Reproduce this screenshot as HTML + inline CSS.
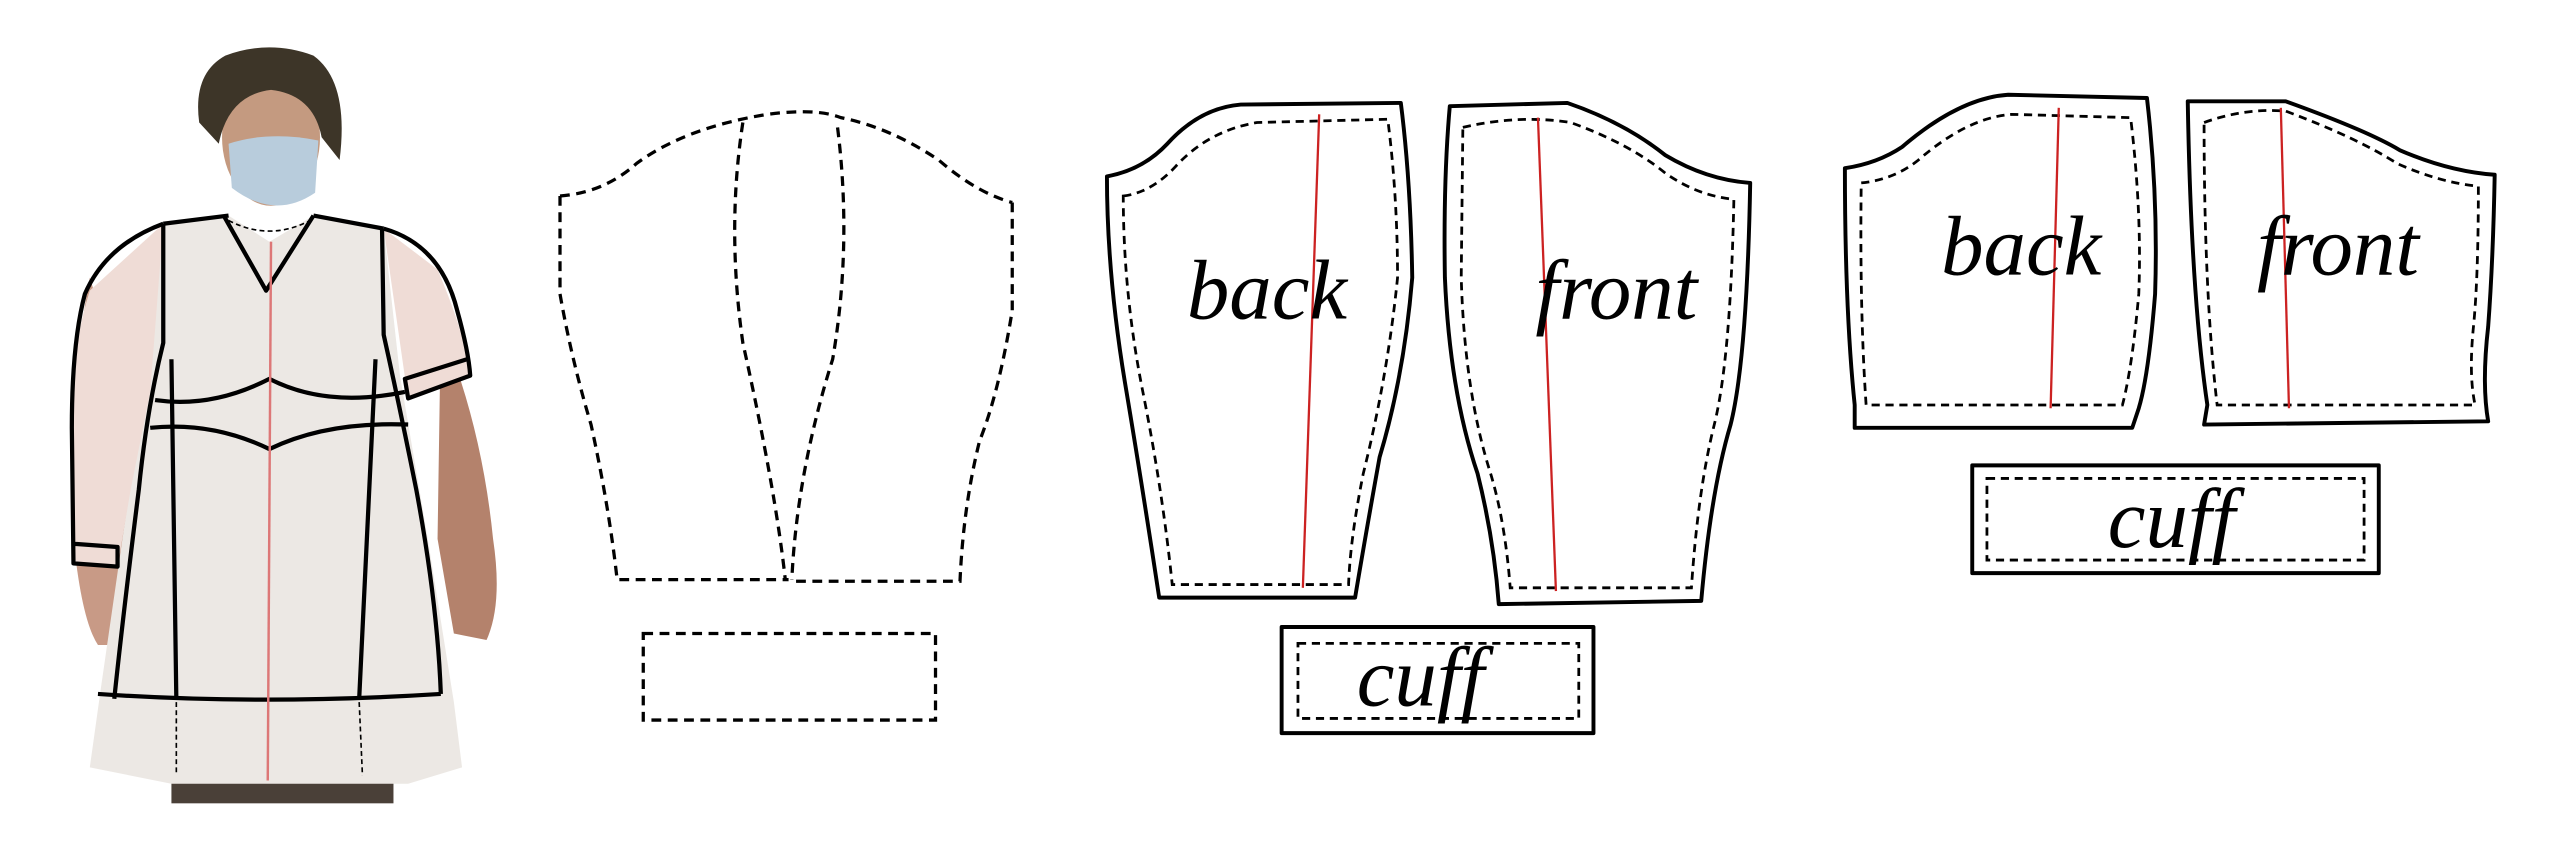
<!DOCTYPE html>
<html><head><meta charset="utf-8"><style>
html,body{margin:0;padding:0;background:#fff;width:2560px;height:854px;overflow:hidden}
svg{display:block}
text{font-family:"Liberation Serif",serif;font-style:italic}
</style></head><body>
<svg width="2560" height="854" viewBox="0 0 1568 523" xmlns="http://www.w3.org/2000/svg">
<rect width="1568" height="523" fill="#fff"/>
<g>
<rect x="105" y="470" width="136" height="22" fill="#4a4038"/>
<path d="M55 170 Q40 250 45 330 Q50 380 60 395 L75 395 L95 300 Z" fill="#c89a86"/>
<path d="M270 200 Q295 260 302 330 Q308 370 298 392 L278 388 L268 330 Z" fill="#b4826c"/>
<ellipse cx="166" cy="84" rx="30" ry="42" fill="#c49a80"/>
<path d="M122 75 Q118 45 138 34 Q165 24 192 34 Q214 50 208 98 L197 84 Q192 58 166 55 Q140 58 134 88 Z" fill="#3d3528"/>
<path d="M140 88 Q165 80 195 86 L193 118 Q168 135 142 115 Z" fill="#b8ccdc"/>
<path d="M100 137 L140 132 L165 148 L192 132 L235 140 L245 230 L262 330 L278 430 L283 470 L250 480 L105 480 L55 470 L62 420 L75 330 L90 230 Z" fill="#ece8e4"/>
<path d="M100 137 L55 178 Q42 220 44 262 L45 345 L72 347 L80 300 L92 240 Z" fill="#efdcd6"/>
<path d="M235 140 L268 165 Q285 205 288 230 L250 245 Z" fill="#efdcd6"/>
<g fill="none" stroke="#000" stroke-width="2.6" stroke-linejoin="round">
<path d="M100 137 L140 132 M192 132 L235 140"/>
<path d="M137 132 L163 178 L192 132"/>
<path d="M100 137 Q65 150 52 180 Q44 210 44 262 L45 345 L72 347 L72 335 L45 333"/>
<path d="M100 137 L100 210 Q90 250 85 300 Q75 380 70 428"/>
<path d="M235 140 Q270 150 280 190 Q287 215 288 230 L250 244 L248 232 L286 220"/>
<path d="M234 140 L235 205 Q245 250 255 300 Q268 370 270 425"/>
<path d="M95 245 Q130 250 165 232 Q200 250 248 240"/>
<path d="M92 262 Q130 258 165 275 Q200 258 250 260"/>
<path d="M105 220 L108 428 M230 220 L220 428"/>
<path d="M60 425 Q160 432 270 425"/>
</g>
<line x1="166" y1="148" x2="164" y2="478" stroke="#d77" stroke-width="1.5"/>
<g stroke="#000" stroke-width="1" stroke-dasharray="3 2" fill="none">
<path d="M108 430 L108 475 M220 430 L222 475 M140 135 Q165 148 190 135"/>
</g>
</g>
<g fill="none" stroke="#000" stroke-width="2" stroke-dasharray="6 4">
<path d="M343 120 Q370 118 390 100 Q420 78 470 70 Q500 66 515 72 Q545 78 575 98 Q598 118 620 124"/>
<path d="M343 120 L343 180 Q350 220 362 260 Q373 310 378 355 L483 355"/>
<path d="M620 124 L620 190 Q612 240 600 270 Q590 310 588 356 L485 356"/>
<path d="M455 75 Q445 140 455 210 Q475 300 481 355"/>
<path d="M513 78 Q522 150 510 220 Q488 290 485 355"/>
<rect x="394" y="388" width="179" height="53"/>
</g>
<g fill="none" stroke="#000" stroke-width="2.4" stroke-linejoin="round">
<path d="M678 108 Q700 104 715 88 Q735 66 760 64 L858 63 Q864 110 865 170 Q860 230 845 280 Q836 330 830 366 L710 366 Q700 300 690 240 Q678 170 678 108 Z"/>
<path d="M888 65 L960 63 Q995 75 1020 95 Q1045 110 1072 112 Q1070 220 1060 260 Q1048 300 1042 368 L918 370 Q915 330 905 290 Q888 240 885 170 Q884 110 888 65 Z"/>
<rect x="785" y="384" width="191" height="65"/>
<path d="M1130 103 Q1150 100 1165 90 Q1200 60 1230 58 L1315 60 Q1322 120 1320 180 Q1316 230 1310 250 L1306 262 L1136 262 L1136 248 Q1130 190 1130 103 Z"/>
<path d="M1340 62 L1400 62 Q1450 80 1470 92 Q1500 105 1528 107 Q1527 160 1524 200 Q1520 235 1524 258 L1350 260 L1352 248 Q1342 180 1340 62 Z"/>
<rect x="1208" y="285" width="249" height="66"/>
</g>
<g fill="none" stroke="#000" stroke-width="1.7" stroke-dasharray="5 3.5">
<path d="M688 120 Q705 118 720 102 Q740 80 770 75 L850 73 Q856 120 856 170 Q850 230 835 290 Q827 330 826 358 L718 358 Q712 300 700 240 Q688 180 688 120 Z"/>
<path d="M896 78 Q930 70 962 75 Q998 88 1020 106 Q1040 120 1062 122 Q1060 220 1050 260 Q1040 300 1036 360 L925 360 Q922 320 913 290 Q897 240 895 170 Z"/>
<rect x="795" y="394" width="172" height="46"/>
<path d="M1140 112 Q1160 110 1175 98 Q1205 72 1232 70 L1305 72 Q1312 130 1310 180 Q1306 225 1300 248 L1143 248 Q1139 190 1140 112 Z"/>
<path d="M1350 75 Q1375 66 1400 68 Q1445 85 1468 100 Q1495 112 1518 114 Q1518 170 1515 200 Q1512 230 1516 248 L1358 248 Q1350 180 1350 75 Z"/>
<rect x="1217" y="293" width="231" height="50"/>
</g>
<g stroke="#c22" stroke-width="1.4">
<line x1="808" y1="70" x2="798" y2="360"/>
<line x1="942" y1="72" x2="953" y2="362"/>
<line x1="1261" y1="66" x2="1256" y2="250"/>
<line x1="1397" y1="66" x2="1402" y2="250"/>
</g>
<g font-size="52" fill="#000" text-anchor="middle">
<text x="776" y="195">back</text>
<text x="990" y="195">front</text>
<text x="870" y="432">cuff</text>
<text x="1238" y="168">back</text>
<text x="1432" y="168">front</text>
<text x="1330" y="335">cuff</text>
</g>
</svg>
</body></html>
